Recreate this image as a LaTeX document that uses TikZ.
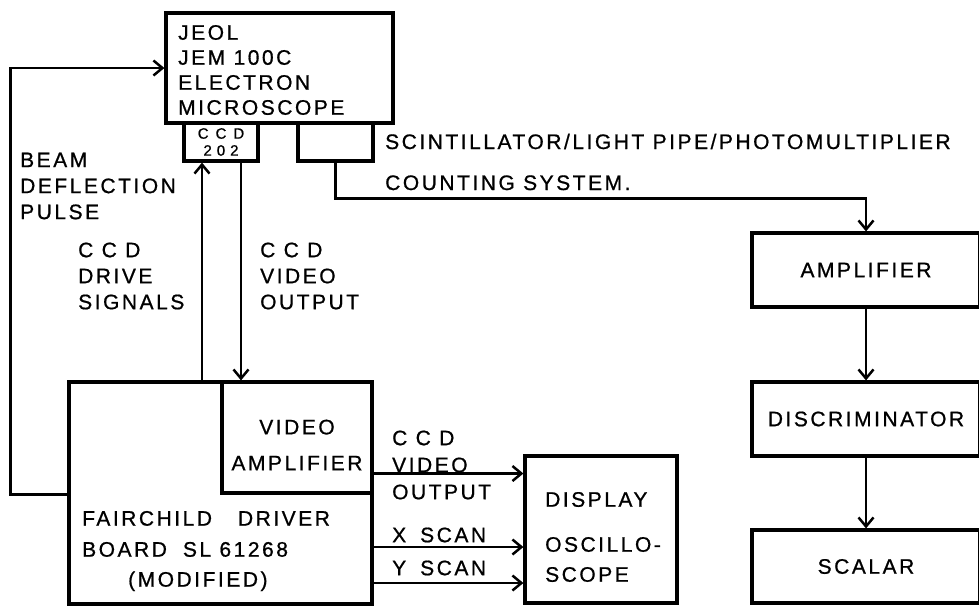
\documentclass[tikz,border=0pt]{standalone}
\usepackage{fontspec}
\setmainfont{Liberation Sans}[LetterSpace=12,FakeBold=0.8]
\usetikzlibrary{arrows.meta}

\begin{document}
\begin{tikzpicture}[x=1pt,y=-1pt,
  box/.style={draw,line width=3.2pt,inner sep=0pt},
  conn/.style={line width=2.5pt},
  arr/.style={conn,-{Straight Barb[length=9pt,width=15pt]}},
  txt/.style={font=\fontsize{21}{26}\selectfont,align=left,inner sep=0pt}]
  \useasboundingbox (0,0) rectangle (979,606);

  % Microscope with CCD and detector
  \node[box,minimum width=227pt,minimum height=110pt] (micro) at (279.5,68) {};
  \node[txt,font=\fontsize{21}{25}\selectfont,anchor=west] (microtxt) at (178,70) {JEOL\\JEM 100C\\ELECTRON\\MICROSCOPE};
  \node[box,minimum width=74pt,minimum height=38pt,font=\fontsize{15}{17}\selectfont,align=center] (ccd) at (221,142) {C\hspace{7pt}C\hspace{7pt}D\\2\hspace{5pt}0\hspace{5pt}2};
  \node[box,minimum width=75pt,minimum height=38pt] (det) at (335.5,142) {};
  \node[txt,anchor=west] (scint) at (385,162) {SCINTILLATOR/LIGHT PIPE/PHOTOMULTIPLIER\\[15pt]COUNTING SYSTEM.};

  % Driver board and video amplifier
  \node[box,minimum width=303pt,minimum height=222pt] (driver) at (220.5,493) {};
  \node[box,minimum width=150pt,minimum height=111pt] (vamp) at (297,437.5) {};
  \node[txt,align=center] (vamptxt) at (297,445) {VIDEO\\[10pt]AMPLIFIER};
  \node[txt,anchor=west] (drvtxt) at (82,551) {FAIRCHILD\hspace{26pt}DRIVER\\[5pt]BOARD\hspace{16pt}SL 61268\\[4pt]\hspace{46pt}(MODIFIED)};

  % Display
  \node[box,minimum width=152pt,minimum height=147pt] (disp) at (601,529.5) {};
  \node[txt,font=\fontsize{21}{30}\selectfont,anchor=west] (disptxt) at (545,537) {DISPLAY\\[15pt]OSCILLO-\\SCOPE};

  % Counting chain
  \node[box,minimum width=228pt,minimum height=74pt,txt] (amp) at (866,270) {AMPLIFIER};
  \node[box,minimum width=228pt,minimum height=74pt,txt] (disc) at (866,419) {DISCRIMINATOR};
  \node[box,minimum width=228pt,minimum height=73pt,txt] (scal) at (866,566.5) {SCALAR};

  % Labels
  \node[txt,anchor=west] (beamtxt) at (20,186) {BEAM\\DEFLECTION\\PULSE};
  \node[txt,anchor=west] (drivetxt) at (78,276) {C C D\\DRIVE\\SIGNALS};
  \node[txt,anchor=west] (videotxt) at (260,276) {C C D\\VIDEO\\OUTPUT};
  \node[txt,font=\fontsize{21}{27}\selectfont,anchor=west] (outtxt) at (392,465) {C C D\\VIDEO\\OUTPUT};
  \node[txt,anchor=west] (xtxt) at (392,535) {X\hspace{14pt}SCAN};
  \node[txt,anchor=west] (ytxt) at (392,568) {Y\hspace{14pt}SCAN};

  % Connectors
  \draw[arr] (driver.west |- vamp.south) -- ++(-57,0) |- (micro.west);
  \draw[arr] ([xshift=-19pt]ccd.south |- driver.north) -- ([xshift=-19pt]ccd.south);
  \draw[arr] ([xshift=20pt]ccd.south) -- ([xshift=20pt]ccd.south |- vamp.north);
  \draw[arr] (det.south) -- ++(0,36) -| (amp.north);
  \draw[arr] ([yshift=-36pt]vamp.east) -- ([yshift=-36pt]vamp.east -| disp.west);
  \draw[arr] ([yshift=-54pt]driver.east) -- ([yshift=-54pt]driver.east -| disp.west);
  \draw[arr] ([yshift=-90pt]driver.east) -- ([yshift=-90pt]driver.east -| disp.west);
  \draw[arr] (amp.south) -- (disc.north);
  \draw[arr] (disc.south) -- (scal.north);
\end{tikzpicture}
\end{document}
